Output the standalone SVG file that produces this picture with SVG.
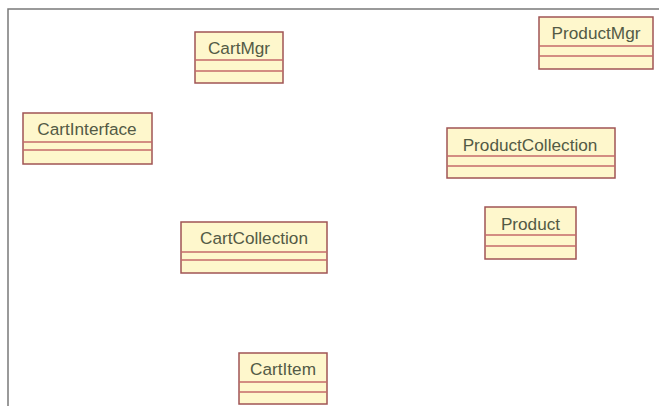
<svg xmlns="http://www.w3.org/2000/svg" width="659" height="406" viewBox="0 0 659 406">
<style>
.box{fill:#fef7cc;stroke:#a05454;stroke-width:1.5}
.div{stroke:#c46a6a;stroke-width:1.5}
.lbl{font-family:"Liberation Sans",Arial,sans-serif;font-size:17.2px;fill:#535a45;text-anchor:middle}
.frame{fill:none;stroke:#7a7a7a;stroke-width:1.5}
</style>
<rect width="659" height="406" fill="#ffffff"/>
<path class="frame" d="M8,406 V9 H659"/>
<g id="CartMgr">
<rect class="box" x="195" y="32" width="88" height="51"/>
<line class="div" x1="195" y1="60" x2="283" y2="60"/>
<line class="div" x1="195" y1="71" x2="283" y2="71"/>
<text class="lbl" x="239" y="54">CartMgr</text>
</g>
<g id="ProductMgr">
<rect class="box" x="539" y="17" width="114" height="52"/>
<line class="div" x1="539" y1="46" x2="653" y2="46"/>
<line class="div" x1="539" y1="56" x2="653" y2="56"/>
<text class="lbl" x="596" y="39">ProductMgr</text>
</g>
<g id="CartInterface">
<rect class="box" x="23" y="113" width="129" height="51"/>
<line class="div" x1="23" y1="142" x2="152" y2="142"/>
<line class="div" x1="23" y1="150" x2="152" y2="150"/>
<text class="lbl" x="87" y="135">CartInterface</text>
</g>
<g id="ProductCollection">
<rect class="box" x="447" y="128" width="168" height="50"/>
<line class="div" x1="447" y1="156" x2="615" y2="156"/>
<line class="div" x1="447" y1="166" x2="615" y2="166"/>
<text class="lbl" x="530" y="150.5">ProductCollection</text>
</g>
<g id="Product">
<rect class="box" x="485" y="207" width="91" height="52"/>
<line class="div" x1="485" y1="235" x2="576" y2="235"/>
<line class="div" x1="485" y1="246" x2="576" y2="246"/>
<text class="lbl" x="530.5" y="230">Product</text>
</g>
<g id="CartCollection">
<rect class="box" x="181" y="222" width="146" height="51"/>
<line class="div" x1="181" y1="252" x2="327" y2="252"/>
<line class="div" x1="181" y1="260" x2="327" y2="260"/>
<text class="lbl" x="254" y="244">CartCollection</text>
</g>
<g id="CartItem">
<rect class="box" x="239" y="353" width="88" height="51"/>
<line class="div" x1="239" y1="382" x2="327" y2="382"/>
<line class="div" x1="239" y1="392" x2="327" y2="392"/>
<text class="lbl" x="283" y="375">CartItem</text>
</g>
<g id="connectors"></g>
</svg>
